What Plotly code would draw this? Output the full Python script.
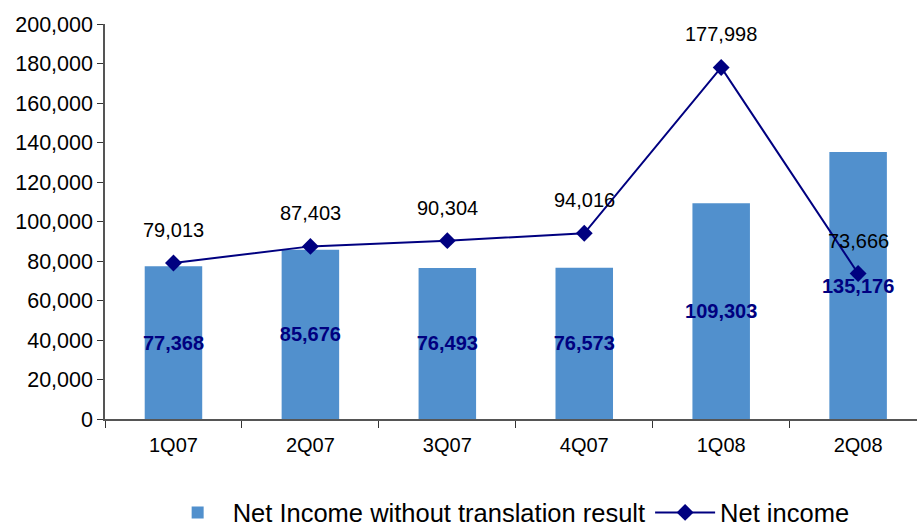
import plotly.graph_objects as go

quarters = ["1Q07", "2Q07", "3Q07", "4Q07", "1Q08", "2Q08"]
net_income_wo_translation = [77368, 85676, 76493, 76573, 109303, 135176]
net_income = [79013, 87403, 90304, 94016, 177998, 73666]
y_ticks = [0, 20000, 40000, 60000, 80000, 100000, 120000, 140000, 160000, 180000, 200000]

FONT = "Liberation Sans"

fig = go.Figure()
fig.add_trace(go.Bar(
    x=quarters, y=net_income_wo_translation,
    name="Net Income without translation result",
    marker=dict(color="#5190CD", line=dict(width=0)),
    width=0.42,
    text=[f"{v:,}" for v in net_income_wo_translation],
    texttemplate="<b>%{text}</b>",
    textposition="inside", insidetextanchor="middle",
    constraintext="none", textangle=0,
    textfont=dict(family=FONT, size=20, color="#000080"),
))
fig.add_trace(go.Scatter(
    x=quarters, y=net_income, mode="lines+markers",
    name="Net income",
    line=dict(color="#000080", width=2),
    marker=dict(symbol="diamond", size=13, color="#000080"),
))
for q, v in zip(quarters, net_income):
    fig.add_annotation(x=q, y=v, text=f"{v:,}", showarrow=False, yshift=33,
                       font=dict(family=FONT, size=20, color="#000000"))

fig.update_layout(
    width=917, height=528,
    margin=dict(l=105, r=0, t=24, b=109, autoexpand=False),
    paper_bgcolor="white", plot_bgcolor="white",
    font=dict(family=FONT, color="#000000"),
    showlegend=True,
    legend=dict(orientation="h", x=0.071, xanchor="left", y=-0.178, yanchor="top",
                font=dict(family=FONT, size=25.5), traceorder="normal",
                itemwidth=60),
    bargap=0.58,
)
fig.update_xaxes(
    type="category", range=[-0.5, 5.43], automargin=False,
    showline=True, linecolor="#555555", linewidth=1.5,
    ticks="outside", ticklen=7, tickcolor="#333333", tickson="boundaries",
    ticklabelstandoff=7,
    tickfont=dict(family=FONT, size=20), showgrid=False, zeroline=False,
)
fig.update_yaxes(
    range=[0, 200000], tickvals=y_ticks, tickformat=",", automargin=False,
    showline=True, linecolor="#555555", linewidth=1.5,
    ticks="outside", ticklen=6, tickcolor="#333333",
    tickfont=dict(family=FONT, size=21.5), showgrid=False, zeroline=False,
)
fig.write_html("out.html", config={"displayModeBar": False},
               post_script="document.body.style.margin='0';document.body.style.overflow='hidden';")
